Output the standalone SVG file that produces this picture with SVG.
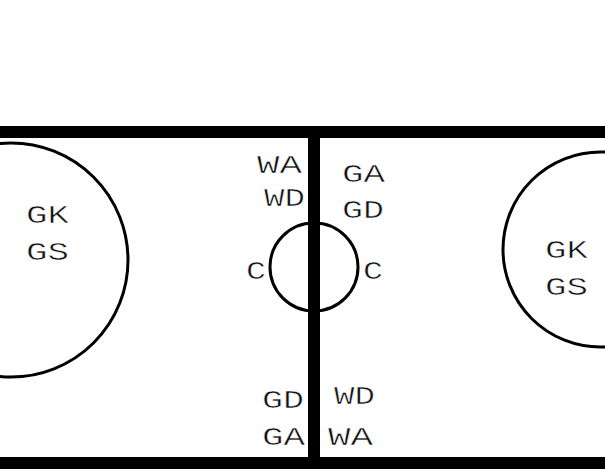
<svg xmlns="http://www.w3.org/2000/svg" width="605" height="469" viewBox="0 0 605 469">
<style>
.line{fill:#000;}
.ring{fill:none;stroke:#000;stroke-width:3;}
.t{font-family:"Liberation Mono","Courier New",monospace;font-size:26px;fill:#111;stroke:#fff;stroke-width:0.5;}
</style>
<rect width="605" height="469" fill="#fff"/>
<g id="court">
<rect class="line" x="0" y="126" width="605" height="12"/>
<rect class="line" x="0" y="457" width="605" height="12"/>
<rect class="line" x="308" y="126" width="12" height="343"/>
</g>
<g id="left-circle">
<circle class="ring" cx="11" cy="260" r="117"/>
<text class="t" x="26" y="223" textLength="43" lengthAdjust="spacingAndGlyphs">GK</text>
<text class="t" x="26" y="260" textLength="43" lengthAdjust="spacingAndGlyphs">GS</text>
</g>
<g id="right-circle">
<circle class="ring" cx="600.5" cy="249.5" r="97.5"/>
<text class="t" x="545" y="258" textLength="43" lengthAdjust="spacingAndGlyphs">GK</text>
<text class="t" x="545" y="295" textLength="43" lengthAdjust="spacingAndGlyphs">GS</text>
</g>
<g id="centre-circle">
<circle class="ring" cx="314" cy="267" r="44"/>
<text class="t" x="246" y="279" textLength="20" lengthAdjust="spacingAndGlyphs">C</text>
<text class="t" x="363" y="279" textLength="20" lengthAdjust="spacingAndGlyphs">C</text>
</g>
<g id="left-third-top">
<text class="t" x="257" y="173" textLength="45" lengthAdjust="spacingAndGlyphs">WA</text>
<text class="t" x="264" y="206" textLength="41" lengthAdjust="spacingAndGlyphs">WD</text>
</g>
<g id="right-third-top">
<text class="t" x="342" y="182" textLength="43" lengthAdjust="spacingAndGlyphs">GA</text>
<text class="t" x="342" y="218" textLength="42" lengthAdjust="spacingAndGlyphs">GD</text>
</g>
<g id="left-third-bottom">
<text class="t" x="262" y="408" textLength="42" lengthAdjust="spacingAndGlyphs">GD</text>
<text class="t" x="262" y="445" textLength="43" lengthAdjust="spacingAndGlyphs">GA</text>
</g>
<g id="right-third-bottom">
<text class="t" x="334" y="404" textLength="41" lengthAdjust="spacingAndGlyphs">WD</text>
<text class="t" x="328" y="445" textLength="45" lengthAdjust="spacingAndGlyphs">WA</text>
</g>
</svg>
